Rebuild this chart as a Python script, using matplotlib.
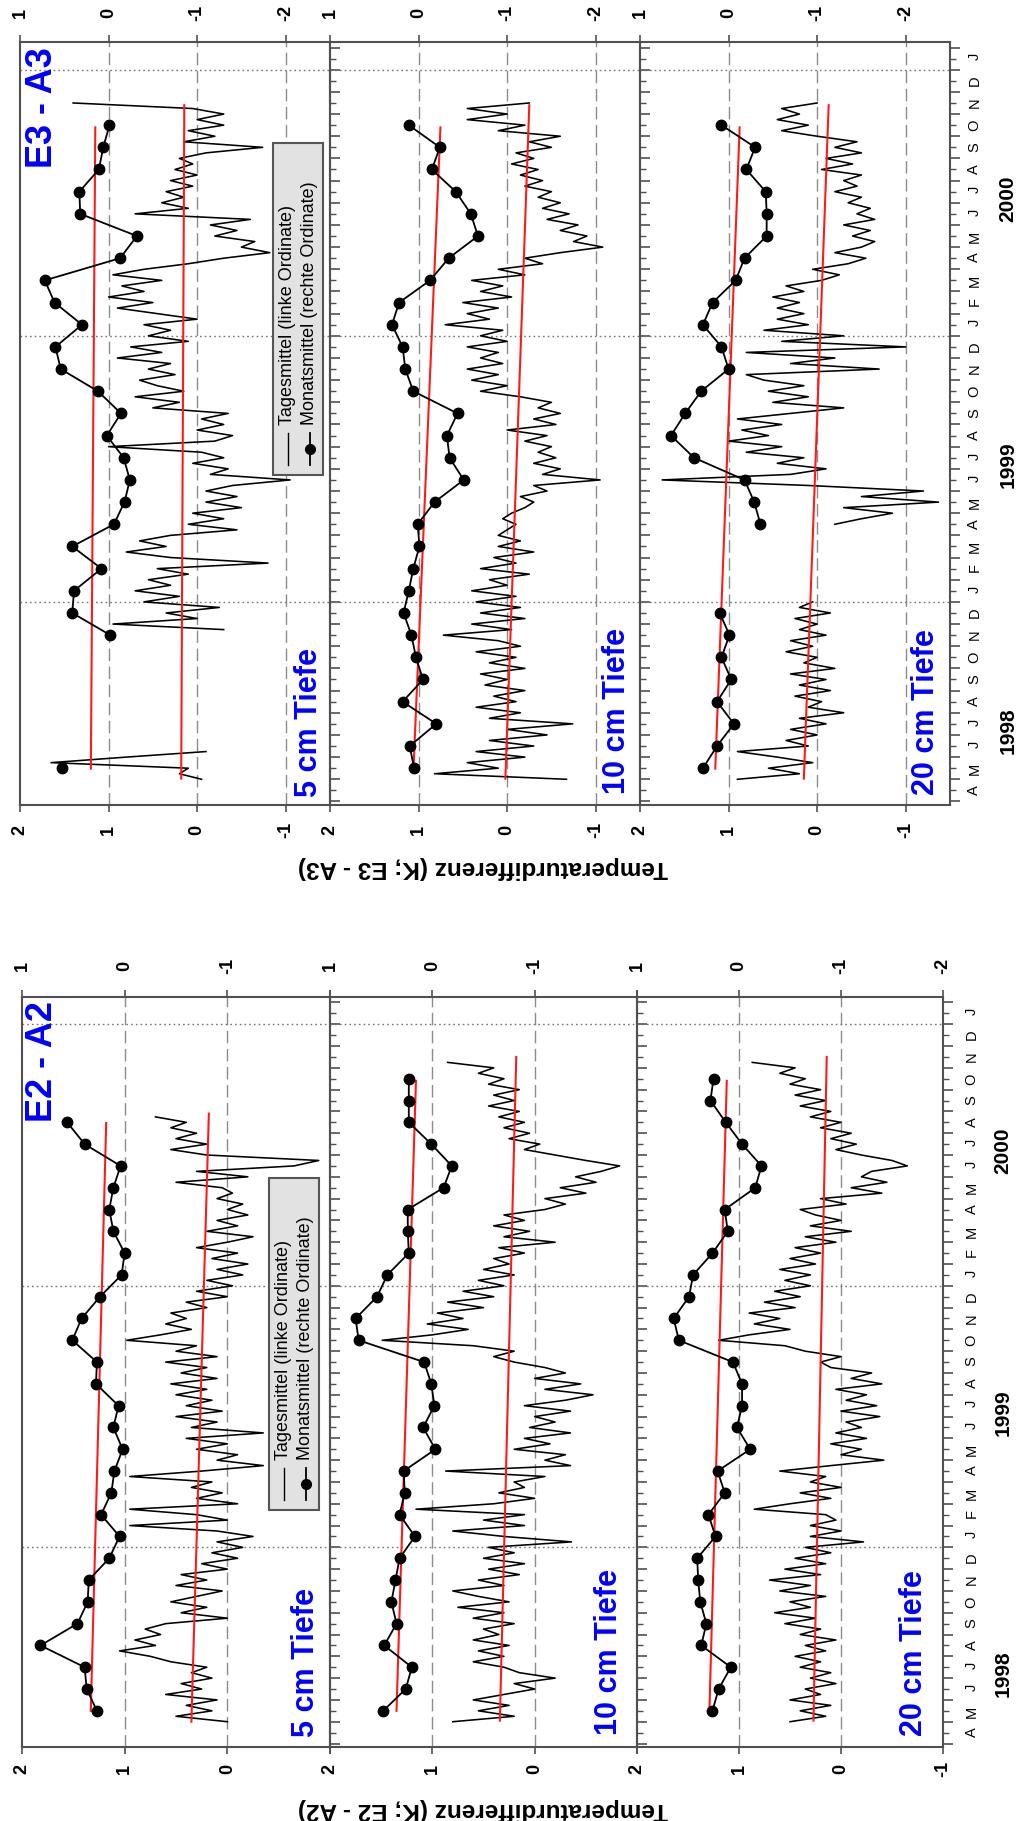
import numpy as np
import matplotlib
matplotlib.use("Agg")
import matplotlib.pyplot as plt
from matplotlib.patches import Rectangle
from matplotlib.lines import Line2D
from matplotlib.transforms import blended_transform_factory

plt.rcParams['font.family'] = ['Liberation Sans', 'DejaVu Sans']

nan = np.nan
W, H = 1019, 1821
STEP = 0.25          # months between listed daily values
T_MIN, T_MAX = -0.16, 34.25   # time axis, months since 1 April 1998

# ---------------- data ----------------
month_letters = list("AMJJASOND" + "JFMAMJJASOND" * 2 + "J")
year_labels = ['1998', '1999', '2000']
year_label_t = [3.2, 15.2, 27.2]
year_start_t = [9, 21, 33]

mon_t30 = 1.5 + np.arange(30)
mon_t28 = 1.5 + np.arange(28)

# --- E3 - A3, monthly means (right ordinate)
m_e3_05 = [0.53, nan, nan, nan, nan, nan, -0.02, 0.41, 0.39, 0.08, 0.41, -0.06, -0.18, -0.24,
           -0.17, 0.02, -0.14, 0.12, 0.54, 0.60, 0.30, 0.61, 0.72, -0.13, -0.32, 0.32, 0.33,
           0.11, 0.06, -0.01]
m_e3_10 = [0.05, 0.10, -0.20, 0.18, -0.05, 0.03, 0.08, 0.17, 0.11, 0.06, -0.01, 0.01, -0.18,
           -0.51, -0.35, -0.32, -0.44, 0.06, 0.15, 0.18, 0.30, 0.22, -0.13, -0.34, -0.67,
           -0.59, -0.42, -0.15, -0.24, 0.11]
m_e3_20 = [0.29, 0.13, -0.06, 0.13, -0.03, 0.08, -0.01, 0.10, nan, nan, nan, -0.36, -0.29,
           -0.18, 0.39, 0.65, 0.49, 0.31, 0.00, 0.08, 0.29, 0.18, -0.08, -0.18, -0.43, -0.43,
           -0.42, -0.20, -0.30, 0.08]
# --- E2 - A2, monthly means (right ordinate)
m_e2_05 = [0.27, 0.37, 0.39, 0.82, 0.46, 0.36, 0.35, 0.15, 0.05, 0.23, 0.13, 0.10, 0.02, 0.11,
           0.06, 0.28, 0.27, 0.51, 0.42, 0.24, 0.03, 0.00, 0.11, 0.15, 0.11, 0.04, 0.39, 0.56]
m_e2_10 = [0.48, 0.26, 0.20, 0.47, 0.35, 0.40, 0.36, 0.32, 0.17, 0.32, 0.27, 0.28, -0.03, 0.09,
           -0.02, 0.01, 0.08, 0.72, 0.75, 0.54, 0.44, 0.23, 0.24, 0.24, -0.11, -0.19, 0.01,
           0.23, 0.23, 0.23]
m_e2_20 = [0.26, 0.20, 0.08, 0.37, 0.32, 0.38, 0.40, 0.41, 0.23, 0.30, 0.14, 0.21, -0.11, 0.02,
           -0.03, -0.03, 0.06, 0.59, 0.64, 0.49, 0.45, 0.26, 0.11, 0.14, -0.16, -0.22, -0.03,
           0.13, 0.28, 0.25]

# --- daily means (left ordinate), values every STEP months from the start time
d_e3_05a_t0 = 1.0
d_e3_05a = [-0.05, 0.2, 0.1, 1.65, 0.8, -0.1]
d_e3_05b_t0 = 7.75
d_e3_05b = [-0.3, 0.95, 0.0, 0.35, -0.25,
            0.6, 0.2, 0.7, 0.3, 0.55, 0.1, 0.45, -0.8, 0.3, 0.8, 0.35, 0.65,
            0.3, -0.45, 0.1, -0.3, 0.05, -0.5, -0.1, -0.45, -0.1, -0.4, -1.05, -0.15,
            -0.35, 0.05, -0.3, -0.05, 1.0, -0.2, -0.4, 0.0, -0.3, -0.05, -0.35, 0.5,
            0.2, 0.7, 0.15, 0.45, 0.65, 0.25, 0.55, 0.3, 0.9, 0.4, 0.75, 0.1,
            0.55, 0.3, 0.6, 0.0, 0.45, 0.9, 0.5, 1.0, 0.6, 0.85, 0.4, 0.95,
            0.6, 0.1, -0.3, -0.82, -0.5, -0.65, -0.2, -0.45, -0.15, -0.6, 0.7, 0.1,
            0.4, 0.15, 0.35, 0.05, 0.3, 0.0, 0.25, 0.05, 0.2, -0.1, -0.74, 0.15,
            -0.2, 0.1, -0.3, 0.0, -0.3, 0.05, 1.4]
d_e3_10_t0 = 1.0
d_e3_10 = [-0.67, 0.82, 0.1, 0.45, -0.2, 0.35, -0.3, 0.2, -0.45, 0.0, -0.74, 0.2,
           -0.15, 0.35, -0.1, 0.15, -0.2, 0.25, 0.0, 0.3, -0.2, 0.2, -0.1, 0.35,
           -0.15, 0.1, 0.72, -0.05, 0.4, -0.2, 0.3, -0.15, 0.35, -0.1, 0.4, 0.0,
           0.2, -0.25, 0.3, -0.1, 0.15, -0.3, 0.1, -0.15, 0.1, 0.0, -0.1, 0.05,
           -0.05, -0.2, -0.3, -0.15, -0.45, -0.3, -1.05, -0.4, -0.6, -0.3, -0.55, -0.35,
           -0.5, -0.2, -0.45, 0.0, -0.55, -0.3, -0.6, -0.35, -0.5, -0.15, 0.3, 0.0,
           0.4, 0.1, 0.45, 0.05, 0.3, 0.1, 0.45, 0.0, 0.3, 0.05, 0.7, 0.2,
           0.45, 0.1, 0.5, -0.05, 0.3, 0.05, 0.4, -0.2, 0.1, -0.4, -0.2, -0.6,
           -1.08, -0.75, -0.9, -0.6, -0.8, -0.45, -0.7, -0.4, -0.6, -0.35, -0.5, -0.2,
           -0.4, -0.15, -0.35, -0.05, -0.3, -0.1, -0.5, -0.25, -0.6, 0.1, -0.2, 0.45,
           0.0, 0.45, -0.25]
d_e3_20a_t0 = 1.0
d_e3_20a = [0.9, 0.2, 0.55, 0.05, 0.45, 0.9, 0.1, 0.35, 0.0, 0.3, -0.1, 0.2,
            -0.3, 0.1, -0.05, 0.25, -0.15, 0.2, -0.1, 0.3, -0.2, 0.15, 0.0, 0.35,
            0.05, 0.3, -0.1, 0.2, 0.0, 0.25, -0.15, 0.2, 0.05]
d_e3_20b_t0 = 12.5
d_e3_20b = [-0.2, -0.5, -0.85, -0.3, -1.37, -0.5, -1.2, 0.1, 1.75, 0.3, -0.1, 0.45,
            0.15, 0.8, 0.4, 1.0, 0.55, 0.85, 0.4, 0.9, 0.3, -0.3, 0.5, 0.1,
            0.55, 0.15, 0.6, 0.8, -0.7, 0.3, -0.2, 0.8, -1.0, 0.4, -0.3, 0.6,
            0.1, 0.45, 0.15, 0.45, 0.2, 0.5, 0.15, 0.35, -0.05, -0.25, 0.05, -0.35,
            -0.55, -0.2, -0.5, -0.65, -0.4, -0.6, -0.3, -0.65, -0.45, -0.6, -0.35, -0.5,
            -0.2, -0.45, -0.3, -0.5, -0.05, -0.4, -0.1, -0.5, -0.2, -0.45, 0.0, 0.4,
            0.1, 0.45, 0.2, 0.4, 0.0]
d_e2_05_t0 = 1.0
d_e2_05 = [0.0, 0.5, 0.15, 0.4, 0.1, 0.6, 0.25, 0.45, 0.15, 0.35, 0.2, 0.55,
           0.75, 1.05, 0.7, 0.9, 0.65, 0.8, 0.6, 0.0, 0.45, 0.2, 0.55, 0.3,
           0.05, 0.5, 0.2, 0.45, 0.0, 0.25, -0.1, 0.15, -0.15, 0.1, -0.25, 0.1,
           0.95, 0.0, 0.3, 0.95, -0.1, 0.3, 0.05, 0.35, 0.15, 0.95, 0.25, -0.35,
           0.1, -0.1, 0.3, 0.0, 0.4, -0.35, 0.35, 0.1, 0.5, 0.05, 0.4, 0.15,
           0.5, 0.2, 0.55, 0.1, 0.45, 0.2, 0.6, 0.1, 0.5, 0.3, 0.98, 0.65,
           0.35, 0.6, 0.4, 0.55, 0.2, 0.4, 0.0, 0.3, -0.05, 0.2, -0.15, 0.1,
           -0.2, 0.15, -0.1, 0.3, 0.0, -0.25, 0.2, -0.1, 0.1, -0.2, 0.0, -0.15,
           0.1, -0.05, 0.05, 0.5, -0.2, 0.3, -0.65, -0.89, 0.2, 0.55, 0.2, 0.5,
           0.3, 0.55, 0.4, 0.7]
d_e2_10_t0 = 1.0
d_e2_10 = [0.8, 0.2, 0.55, 0.25, 0.6, 0.3, 0.0, 0.2, -0.2, 0.15, 0.3, 0.6,
           0.3, 0.55, 0.25, 0.6, 0.35, 0.5, 0.2, 0.6, 0.3, 0.75, 0.25, 0.55,
           0.8, 0.3, 0.55, 0.15, 0.45, 0.1, 0.5, 0.2, 0.45, -0.36, 0.3, 0.8,
           0.1, 0.5, 0.1, 1.16, 0.4, 0.0, 0.35, 0.1, 0.2, -0.1, 0.87, -0.35,
           -0.1, -0.3, 0.2, -0.15, 0.1, -0.35, 0.05, -0.2, 0.0, -0.35, 0.1, -0.3,
           -0.57, -0.1, -0.45, 0.0, -0.3, -0.1, 0.2, 0.4, 0.2, 0.6, 1.49, 1.0,
           0.65, 1.05, 0.7, 0.95, 0.5, 0.85, 0.4, 0.7, 0.3, 0.55, 0.2, 0.5,
           0.25, 0.4, 0.1, 0.35, -0.2, 0.3, 0.05, 0.4, 0.1, 0.3, -0.1, -0.3,
           -0.1, -0.5, -0.25, -0.6, -0.4, -0.65, -0.83, -0.5, -0.2, 0.1, -0.05, 0.25,
           0.05, 0.3, 0.1, 0.35, 0.15, 0.45, 0.2, 0.4, 0.15, 0.45, 0.3, 0.55,
           0.4, 0.85]
d_e2_20_t0 = 1.0
d_e2_20 = [0.5, 0.15, 0.4, 0.1, 0.5, 0.2, 0.35, 0.05, 0.3, 0.1, 0.4, 0.2,
           0.45, 0.15, 0.35, 0.05, 0.4, 0.2, 0.55, 0.25, 0.65, 0.3, 0.5, 0.15,
           0.6, 0.3, 0.7, 0.2, 0.55, 0.15, 0.45, 0.1, 0.35, -0.22, 0.3, 0.0,
           0.3, 0.05, 0.15, 0.85, 0.5, 0.1, 0.4, 0.0, 0.3, 0.15, 0.6, 0.1,
           -0.42, 0.0, -0.2, 0.1, -0.25, 0.05, -0.2, -0.05, -0.38, 0.0, -0.35, -0.05,
           -0.25, 0.05, -0.4, -0.1, -0.3, 0.1, 0.2, 0.0, 0.35, 0.55, 1.2, 0.9,
           0.5, 0.85, 0.6, 0.9, 0.45, 0.75, 0.4, 0.65, 0.3, 0.55, 0.3, 0.6,
           0.25, 0.5, 0.2, 0.45, 0.05, 0.35, -0.1, 0.3, 0.0, 0.25, 0.4, -0.05,
           0.2, -0.4, -0.1, -0.45, -0.2, -0.3, -0.65, -0.5, -0.2, 0.05, -0.15, 0.1,
           -0.1, 0.2, 0.0, 0.3, 0.1, 0.4, 0.15, 0.45, 0.2, 0.5, 0.35, 0.6,
           0.45, 0.87]

# --- linear trends (red): start/end time and value
trd_t_e3 = [1.03, 31.4]
trm_t_e3 = [1.48, 30.4]
trd_e3_05 = [0.18, 0.145]
trm_e3_05 = [0.20, 0.15]
trd_e3_10 = [0.02, -0.25]
trm_e3_10 = [0.057, -0.247]
trd_e3_20 = [0.15, -0.13]
trm_e3_20 = [0.15, -0.125]
trd_t_e2_05 = [1.0, 28.9]
trm_t_e2_05 = [1.49, 28.47]
trd_e2_05 = [0.35, 0.18]
trm_e2_05 = [0.33, 0.18]
trd_t_e2 = [1.05, 31.5]
trm_t_e2 = [1.5, 30.4]
trd_e2_10 = [0.34, 0.18]
trm_e2_10 = [0.35, 0.16]
trd_e2_20 = [0.27, 0.14]
trm_e2_20 = [0.29, 0.12]

depth_labels = ['5 cm Tiefe', '10 cm Tiefe', '20 cm Tiefe']

# ---------------- figure ----------------
fig = plt.figure(figsize=(W / 100, H / 100), dpi=100)
fig.patch.set_facecolor('white')

FRAME_C = '#505050'
GRID_C = '#8c8c8c'
RED = '#ff1a1a'
BLUE = '#0000ff'


def prect(x0, x1, y0, y1):
    return [x0 / W, 1 - y1 / H, (x1 - x0) / W, (y1 - y0) / H]


def draw_panel(x0, x1, y0, y1, dlim, mlim, dlbl, mlbl, pad_bot, pad_top, month_pad,
               is_last, daily, d_tt, d_tv, mon_t, mon_v, m_tt, m_tv):
    ax = fig.add_axes(prect(x0, x1, y0, y1))
    ax.set_facecolor('none')
    ax.set_xlim(*dlim)
    ax.set_ylim(T_MIN, T_MAX)
    for v in range(-3, 4):
        if min(dlim) < v < max(dlim):
            ax.axvline(v, color=GRID_C, lw=1.0, dashes=(9, 4), zorder=1)
    for ty in year_start_t:
        ax.axhline(ty, color='#777777', lw=1.0, ls=(0, (1.2, 2.2)), zorder=1)
    for t0, vals in daily:
        tt = t0 + STEP * np.arange(len(vals))
        ax.plot(vals, tt, color='black', lw=1.15, zorder=3)
    ax.plot(d_tv, d_tt, color=RED, lw=1.5, zorder=4)

    # bottom (left ordinate) ticks
    dt = [2, 1, 0, -1]
    ax.set_xticks(dt)
    ax.set_xticklabels(dlbl)
    ax.tick_params(axis='x', bottom=True, top=False, direction='out', length=5,
                   width=1.2, color=FRAME_C, labelsize=13, labelrotation=90, pad=pad_bot)
    for l in ax.get_xticklabels():
        l.set_fontweight('bold')
        l.set_va('center')

    # time axis on the right
    ax.yaxis.tick_right()
    ax.set_yticks(np.arange(0, 35))
    ax.set_yticks(np.arange(0.5, 34, 1.0), minor=True)
    ax.tick_params(axis='y', which='major', left=False, right=True, labelleft=False,
                   labelright=False, direction='out', length=7, width=1.2, color=FRAME_C)
    ax.tick_params(axis='y', which='minor', left=False, right=True, labelleft=False,
                   labelright=is_last, direction='out', length=4, width=1.0,
                   color=FRAME_C, labelsize=10.5, labelrotation=90, pad=month_pad)
    if is_last:
        ax.set_yticks(np.arange(0.5, 34, 1.0), labels=month_letters, minor=True)
        for l in ax.get_yticklabels(minor=True):
            l.set_ha('center')
    for s in ax.spines.values():
        s.set_color(FRAME_C)
        s.set_linewidth(1.5)

    ax2 = ax.twiny()
    ax2.set_xlim(*mlim)
    ax2.set_ylim(T_MIN, T_MAX)
    ax2.plot(m_tv, m_tt, color=RED, lw=1.5, zorder=4)
    ax2.plot(mon_v, mon_t, color='black', lw=1.3, marker='o', ms=7.5, zorder=5)
    ax2.set_xticks([1, 0, -1, -2])
    ax2.set_xticklabels(mlbl)
    ax2.tick_params(axis='x', top=True, bottom=False, labeltop=True, labelbottom=False,
                    direction='out', length=5, width=1.2, color=FRAME_C, labelsize=13,
                    labelrotation=90, pad=pad_top)
    for l in ax2.get_xticklabels():
        l.set_fontweight('bold')
        l.set_va('center')
    for s in ax2.spines.values():
        s.set_visible(False)
    return ax


def draw_legend(xl, yb, w=50, h=332):
    fig.add_artist(Rectangle((xl / W, 1 - yb / H), w / W, h / H, transform=fig.transFigure,
                             facecolor='#e2e2e2', edgecolor='#555555', lw=1.5, zorder=6))
    c1, c2 = xl + 15, xl + 37
    fig.add_artist(Line2D([c1 / W, c1 / W], [1 - (yb - 10) / H, 1 - (yb - 42) / H],
                          transform=fig.transFigure, color='black', lw=1.0, zorder=7))
    fig.add_artist(Line2D([c2 / W, c2 / W], [1 - (yb - 10) / H, 1 - (yb - 42) / H],
                          transform=fig.transFigure, color='black', lw=1.3, zorder=7))
    fig.add_artist(Line2D([c2 / W], [1 - (yb - 26) / H], transform=fig.transFigure,
                          color='black', marker='o', ms=7, lw=0, zorder=8))
    fig.text(c1 / W, 1 - (yb - 50) / H, 'Tagesmittel (linke Ordinate)', rotation=90,
             rotation_mode='anchor', ha='left', va='center', fontsize=13, zorder=8)
    fig.text(c2 / W, 1 - (yb - 50) / H, 'Monatsmittel (rechte Ordinate)', rotation=90,
             rotation_mode='anchor', ha='left', va='center', fontsize=13, zorder=8)


# ---- E3 - A3 block ----
e3_x = [(20, 330), (330, 640), (640, 950)]
e3_daily = [[(d_e3_05a_t0, d_e3_05a), (d_e3_05b_t0, d_e3_05b)],
            [(d_e3_10_t0, d_e3_10)],
            [(d_e3_20a_t0, d_e3_20a), (d_e3_20b_t0, d_e3_20b)]]
e3_mon = [m_e3_05, m_e3_10, m_e3_20]
e3_trd = [trd_e3_05, trd_e3_10, trd_e3_20]
e3_trm = [trm_e3_05, trm_e3_10, trm_e3_20]
e3_axes = []
for i, (x0, x1) in enumerate(e3_x):
    a = draw_panel(x0, x1, 42, 805, (2, -1.5), (1, -2.5),
                   ['2', '1', '0', '-1'], ['1', '0', '-1', '-2'],
                   pad_bot=13, pad_top=15.8, month_pad=13.5, is_last=(i == 2),
                   daily=e3_daily[i], d_tt=trd_t_e3, d_tv=e3_trd[i],
                   mon_t=mon_t30, mon_v=e3_mon[i], m_tt=trm_t_e3, m_tv=e3_trm[i])
    e3_axes.append(a)

# ---- E2 - A2 block ----
e2_x = [(22, 330), (330, 637), (637, 943)]
e2_daily = [[(d_e2_05_t0, d_e2_05)], [(d_e2_10_t0, d_e2_10)], [(d_e2_20_t0, d_e2_20)]]
e2_mon = [(mon_t28, m_e2_05), (mon_t30, m_e2_10), (mon_t30, m_e2_20)]
e2_trd = [(trd_t_e2_05, trd_e2_05), (trd_t_e2, trd_e2_10), (trd_t_e2, trd_e2_20)]
e2_trm = [(trm_t_e2_05, trm_e2_05), (trm_t_e2, trm_e2_10), (trm_t_e2, trm_e2_20)]
e2_axes = []
for i, (x0, x1) in enumerate(e2_x):
    last = (i == 2)
    a = draw_panel(x0, x1, 997, 1747, (2, -1), (1, -2),
                   ['2', '1', '0', '-1' if last else ''],
                   ['1', '0', '-1', '-2' if last else ''],
                   pad_bot=10.8, pad_top=17.3, month_pad=16.5, is_last=last,
                   daily=e2_daily[i], d_tt=e2_trd[i][0], d_tv=e2_trd[i][1],
                   mon_t=e2_mon[i][0], mon_v=e2_mon[i][1],
                   m_tt=e2_trm[i][0], m_tv=e2_trm[i][1])
    e2_axes.append(a)

# year labels
for ax_last, xpx in [(e3_axes[2], 1008), (e2_axes[2], 1003)]:
    tr = blended_transform_factory(fig.transFigure, ax_last.transData)
    for lab, ty in zip(year_labels, year_label_t):
        fig.text(xpx / W, ty, lab, transform=tr, rotation=90, ha='center', va='center',
                 fontsize=15, fontweight='bold')

# depth labels
e3_lab_pos = [(309, 797), (617, 794), (926, 795)]
e2_lab_pos = [(306, 1737), (609, 1735), (914, 1736)]
for labs in (e3_lab_pos, e2_lab_pos):
    for txt, (x, y) in zip(depth_labels, labs):
        fig.text(x / W, 1 - y / H, txt, rotation=90, ha='center', va='bottom',
                 color=BLUE, fontsize=22, fontweight='bold')

fig.text(42 / W, 1 - 108 / H, 'E3 - A3', rotation=90, ha='center', va='center',
         color=BLUE, fontsize=26, fontweight='bold')
fig.text(43 / W, 1 - 1061 / H, 'E2 - A2', rotation=90, ha='center', va='center',
         color=BLUE, fontsize=26, fontweight='bold')

fig.text(483 / W, 1 - 867 / H, 'Temperaturdifferenz (K; E3 - A3)', rotation=180,
         ha='center', va='center', fontsize=17.5, fontweight='bold')
fig.text(483 / W, 1 - 1810 / H, 'Temperaturdifferenz (K; E2 - A2)', rotation=180,
         ha='center', va='center', fontsize=17.5, fontweight='bold')

draw_legend(273, 475)
draw_legend(269, 1510)

fig.savefig('out.png', dpi=100)
